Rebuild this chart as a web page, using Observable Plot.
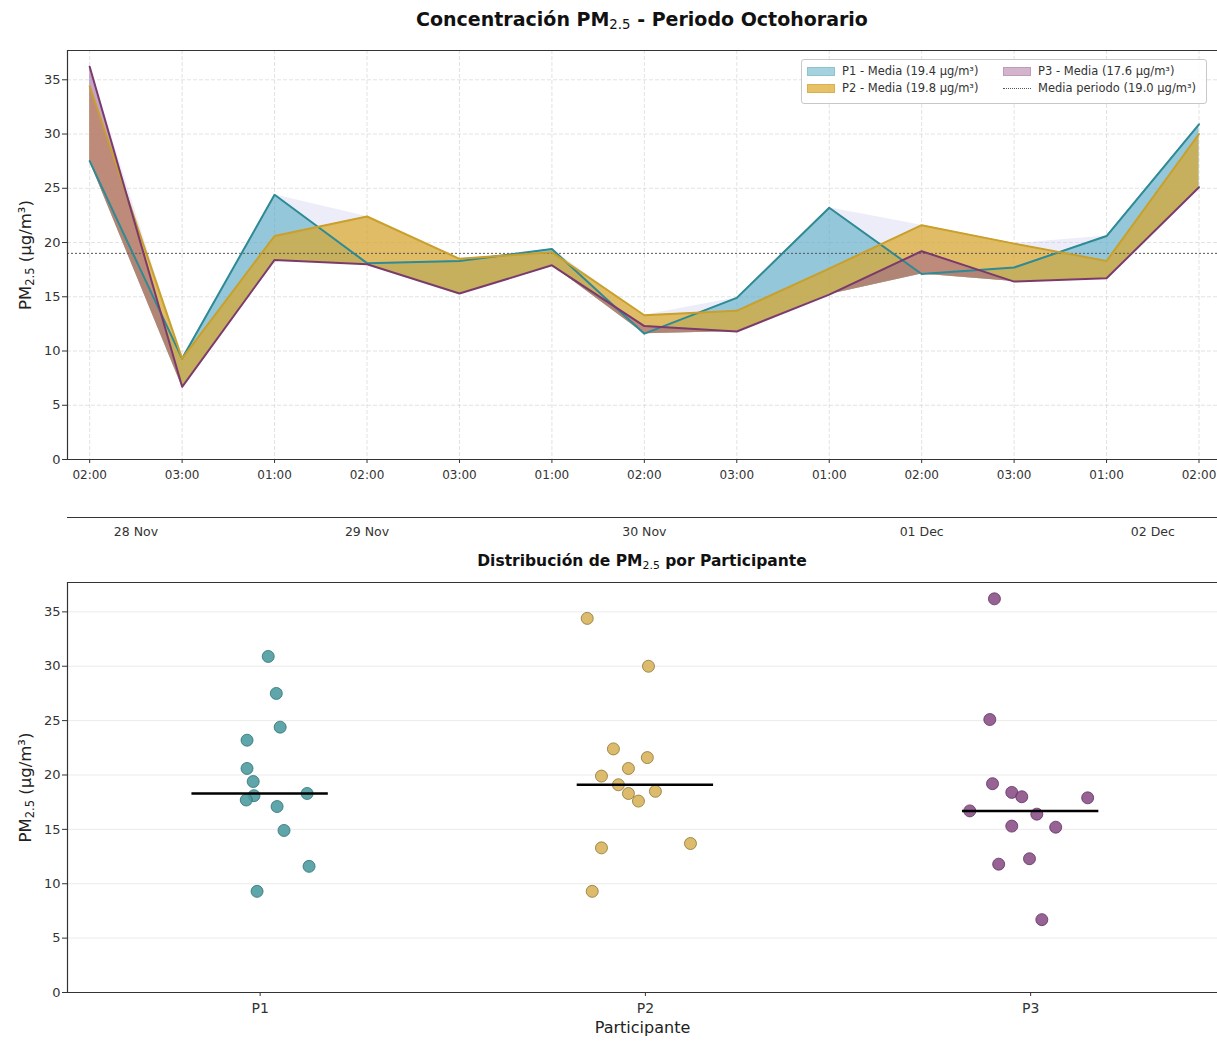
<!DOCTYPE html>
<html><head><meta charset="utf-8">
<script src="https://cdn.jsdelivr.net/npm/d3@7"></script>
<script src="https://cdn.jsdelivr.net/npm/@observablehq/plot@0.6"></script>
<style>
body{margin:0;background:#fff;font-family:"DejaVu Sans",sans-serif;overflow:hidden}
#wrap{position:relative;width:1217px;height:1044px;overflow:hidden}
.ttl{position:absolute;left:67px;width:1150px;text-align:center;font-weight:bold;color:#111;white-space:nowrap}
.ttl sub{font-size:70%;font-weight:normal;vertical-align:-3px;line-height:0}
#legend{position:absolute;left:801px;top:59px;width:404px;height:43px;border:1px solid #c8c8c8;border-radius:3px;background:rgba(255,255,255,0.85);font-size:11.5px;color:#333}
#legend .it{position:absolute;display:flex;align-items:center;white-space:nowrap;height:14px}
#legend .sw{width:28px;height:9px;margin-right:7px;box-sizing:border-box}
#legend .ln{width:28px;height:0;border-top:1px dotted #555;margin-right:7px}
</style></head><body><div id="wrap"></div>
<script>
// ---- data ----
const hours = ["02:00","03:00","01:00","02:00","03:00","01:00","02:00","03:00","01:00","02:00","03:00","01:00","02:00"];
const days  = ["28 Nov","28 Nov","29 Nov","29 Nov","29 Nov","30 Nov","30 Nov","30 Nov","01 Dec","01 Dec","01 Dec","02 Dec","02 Dec"];
const p1 = [27.5, 9.3, 24.4, 18.1, 18.3, 19.4, 11.6, 14.9, 23.2, 17.1, 17.7, 20.6, 30.9];
const p2 = [34.4, 9.3, 20.6, 22.4, 18.5, 19.1, 13.3, 13.7, 17.6, 21.6, 19.9, 18.3, 30.0];
const p3 = [36.2, 6.7, 18.4, 18.0, 15.3, 17.9, 12.3, 11.8, 15.2, 19.2, 16.4, 16.7, 25.1];
// horizontal jitter of the strip-plot points (category units)
const jitterP1 = [0.042,-0.008,0.052,-0.016,0.122,-0.018,0.127,0.062,-0.034,0.044,-0.036,-0.034,0.021];
const jitterP2 = [-0.151,-0.138,-0.044,-0.083,0.026,-0.070,-0.114,0.117,-0.018,0.005,-0.114,-0.044,0.008];
const jitterP3 = [-0.094,0.029,-0.049,-0.023,-0.049,0.148,-0.003,-0.083,0.065,-0.099,0.016,-0.158,-0.106];
const participants = ["P1","P2","P3"];
const legendLabels = ["P1 - Media (19.4 µg/m³)","P2 - Media (19.8 µg/m³)","P3 - Media (17.6 µg/m³)","Media periodo (19.0 µg/m³)"];
const periodMean = 19.0;
const yTicks = [0,5,10,15,20,25,30,35];

// ---- styles ----
const lineCol = ["#2e8a94","#c9a02c","#7b3a6c"];
const fillCol = ["#4aa8c0","#dba628","#9c5a8f"];
const fillOp  = [0.55,0.7,0.5];
const dotFill = ["#4c9ca1","#d8b55c","#8b5288"];
const dotStroke = ["#2f6e73","#8a7434","#5e3060"];
const YMAX = 37.7;
const font = {fontFamily:"'DejaVu Sans', sans-serif", fontSize:"12px", color:"#333", background:"transparent", overflow:"visible"};

const series = [p1,p2,p3];
const rows = hours.map((h,i)=>({i, h, day:days[i], p1:p1[i], p2:p2[i], p3:p3[i],
  min:Math.min(p1[i],p2[i],p3[i]), max:Math.max(p1[i],p2[i],p3[i])}));
const X0 = -0.24, X1 = 12.2;
const idx = d3.range(hours.length);

const wrap = document.getElementById("wrap");
function add(el, y, x=0){ el.style.position="absolute"; el.style.top=y+"px"; el.style.left=x+"px"; wrap.appendChild(el); return el; }
function subscriptPM(svg){
  svg.querySelectorAll("text").forEach(t=>{
    const s = t.textContent;
    if (!s.includes("PM2.5")) return;
    const rest = s.split("PM2.5")[1];
    while (t.firstChild) t.removeChild(t.firstChild);
    const ns="http://www.w3.org/2000/svg";
    const a=document.createElementNS(ns,"tspan"); a.textContent="PM"; t.appendChild(a);
    const b=document.createElementNS(ns,"tspan"); b.textContent="2.5"; b.setAttribute("font-size","11.5"); b.setAttribute("dy","3.5"); t.appendChild(b);
    const c=document.createElementNS(ns,"tspan"); c.textContent=rest; c.setAttribute("dy","-3.5"); t.appendChild(c);
  });
}

// ---- titles ----
const t1 = document.createElement("div"); t1.className="ttl"; t1.style.fontSize="19px"; t1.style.top="8px";
t1.innerHTML = "Concentración PM<sub>2.5</sub> - Periodo Octohorario"; wrap.appendChild(t1);
const t2 = document.createElement("div"); t2.className="ttl"; t2.style.fontSize="15.5px"; t2.style.top="552px";
t2.innerHTML = "Distribución de PM<sub>2.5</sub> por Participante"; wrap.appendChild(t2);

// ---- top chart ----
const areas = series.map((s,k)=>Plot.areaY(rows,{x:"i", y1:"min", y2:"p"+(k+1), fill:fillCol[k], fillOpacity:fillOp[k]}));
const lines = series.map((s,k)=>Plot.lineY(rows,{x:"i", y:"p"+(k+1), stroke:lineCol[k], strokeWidth:2}));
const topChart = Plot.plot({
  width:1217, height:545, marginTop:50, marginBottom:86, marginLeft:67, marginRight:0,
  style:font,
  x:{domain:[X0,X1], axis:null},
  y:{domain:[0,YMAX], axis:null},
  marks:[
    Plot.gridX(idx,{stroke:"#cfcfcf", strokeOpacity:0.6, strokeDasharray:"4,2"}),
    Plot.gridY(yTicks,{stroke:"#cfcfcf", strokeOpacity:0.6, strokeDasharray:"4,2"}),
    Plot.areaY(rows,{x:"i", y1:"min", y2:"max", fill:"#c3c3ea", fillOpacity:0.3}),
    ...areas,
    Plot.ruleY([periodMean],{stroke:"#555", strokeWidth:1, strokeDasharray:"2,2"}),
    ...lines,
    Plot.axisY(yTicks,{tickSize:5, tickPadding:2, label:null, fontSize:13}),
    Plot.axisX(idx,{tickSize:4, tickPadding:7, tickFormat:i=>hours[i], label:null, fontSize:12}),
    Plot.ruleY([0],{stroke:"#333", strokeWidth:1.2}),
    Plot.ruleY([YMAX],{stroke:"#333", strokeWidth:1.2}),
    Plot.ruleX([X0],{stroke:"#333", strokeWidth:1.2}),
    Plot.text(["PM2.5 (µg/m³)"],{frameAnchor:"left", dx:-42, rotate:-90, fontSize:16.5, fill:"#222", textAnchor:"middle"})
  ]
});
subscriptPM(topChart);
add(topChart,0);

// ---- day axis (secondary) ----
const dayNames = Array.from(new Set(days));
const dayRows = dayNames.map(d=>({d, c:d3.mean(idx.filter(i=>days[i]===d))}));
const dayAxis = Plot.plot({
  width:1217, height:32, marginTop:5, marginBottom:0, marginLeft:67, marginRight:0,
  style:font,
  x:{domain:[X0,X1], axis:null},
  y:{domain:[0,1], axis:null},
  marks:[
    Plot.ruleY([1],{stroke:"#333", strokeWidth:1.2}),
    Plot.text(dayRows,{x:"c", text:"d", frameAnchor:"top", dy:10, fontSize:12.5, fill:"#333"})
  ]
});
add(dayAxis,512);

// ---- legend ----
const lg = document.createElement("div"); lg.id="legend"; wrap.appendChild(lg);
const swCol = ["rgba(74,168,192,0.5)","rgba(219,166,40,0.7)","rgba(156,90,143,0.45)"];
const swBorder = ["#8fc3cf","#d7b14c","#c29bbb"];
const pos = [[5,4],[5,21],[201,4],[201,21]];
legendLabels.forEach((lab,k)=>{
  const it=document.createElement("div"); it.className="it"; it.style.left=pos[k][0]+"px"; it.style.top=pos[k][1]+"px";
  const sw=document.createElement("div");
  if (k<3){ sw.className="sw"; sw.style.background=swCol[k]; sw.style.border="1px solid "+swBorder[k]; }
  else { sw.className="ln"; }
  const tx=document.createElement("span"); tx.textContent=lab;
  it.appendChild(sw); it.appendChild(tx); lg.appendChild(it);
});

// ---- bottom chart ----
const jit = [jitterP1,jitterP2,jitterP3];
const pts = participants.flatMap((p,pi)=>series[pi].map((v,k)=>({p, pi, v, x:pi+jit[pi][k]})));
const meds = participants.map((p,pi)=>({p, pi, m:d3.median(series[pi])}));
const BX0=-0.5, BX1=2.485;
const dots = participants.map((p,pi)=>Plot.dot(pts.filter(d=>d.pi===pi),{x:"x", y:"v", r:6, fill:dotFill[pi], fillOpacity:0.9, stroke:dotStroke[pi], strokeWidth:0.8}));
const bottomChart = Plot.plot({
  width:1217, height:494, marginTop:32, marginBottom:52, marginLeft:67, marginRight:0,
  style:font,
  x:{domain:[BX0,BX1], axis:null},
  y:{domain:[0,YMAX], axis:null},
  marks:[
    Plot.gridY(yTicks,{stroke:"#d8d8d8", strokeOpacity:0.5}),
    ...dots,
    Plot.ruleY(meds,{y:"m", x1:d=>d.pi-0.177, x2:d=>d.pi+0.177, stroke:"#000", strokeWidth:2.5}),
    Plot.axisY(yTicks,{tickSize:5, tickPadding:2, label:null, fontSize:13}),
    Plot.axisX([0,1,2],{tickSize:4, tickPadding:7, tickFormat:i=>participants[i], label:null, fontSize:14}),
    Plot.ruleY([0],{stroke:"#333", strokeWidth:1.2}),
    Plot.ruleY([YMAX],{stroke:"#333", strokeWidth:1.2}),
    Plot.ruleX([BX0],{stroke:"#333", strokeWidth:1.2}),
    Plot.text(["PM2.5 (µg/m³)"],{frameAnchor:"left", dx:-42, rotate:-90, fontSize:16.5, fill:"#222", textAnchor:"middle"}),
    Plot.text(["Participante"],{frameAnchor:"bottom", dy:40, fontSize:16, fill:"#222"})
  ]
});
subscriptPM(bottomChart);
add(bottomChart,550);
</script></body></html>
